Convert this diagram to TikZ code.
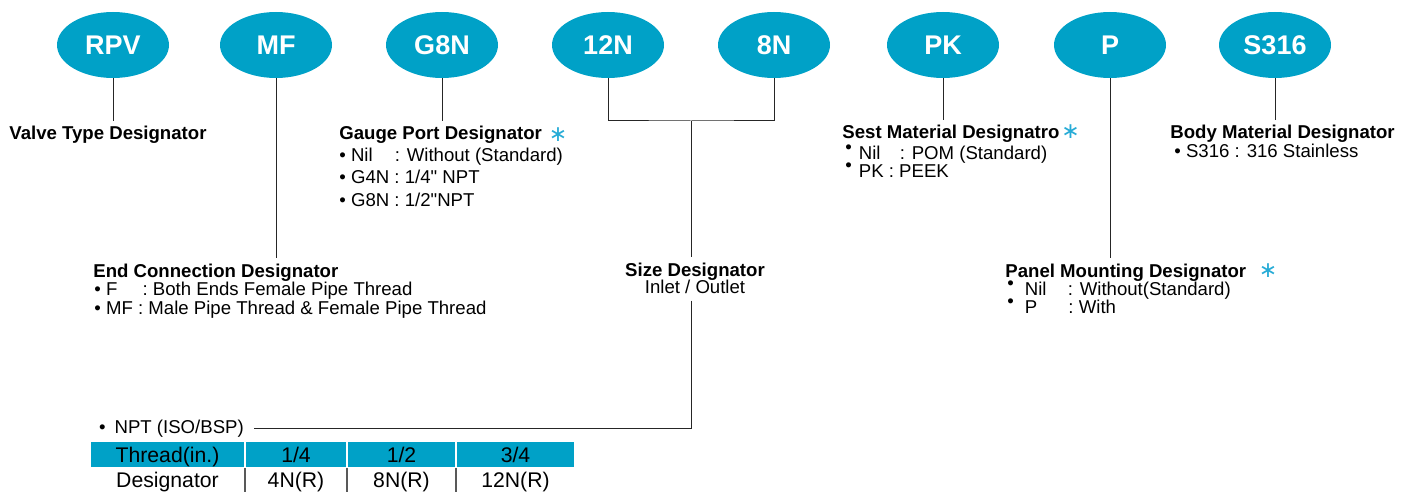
\documentclass[tikz,border=0pt]{standalone}
\usepackage{fontspec}
\setmainfont{Liberation Sans}
\newfontfamily\symfont{DejaVu Sans}
\newfontfamily\inchfont[Ligatures=TeXOff]{Liberation Sans}
\usetikzlibrary{shapes,positioning,calc}

\definecolor{valvecyan}{RGB}{0,161,199}
\definecolor{starcyan}{RGB}{38,171,214}

\tikzset{
  oval/.style={ellipse, fill=valvecyan, minimum width=56pt, minimum height=33pt, inner sep=0pt, text=white, font=\fontsize{13.5}{14}\selectfont\bfseries},
  title/.style={anchor=base west, inner xsep=0pt, inner ysep=2.5pt, font=\fontsize{9.3}{11}\selectfont\bfseries},
  item/.style={anchor=base west, inner sep=0pt, font=\fontsize{9.3}{11}\selectfont},
  star/.style={anchor=base west, inner sep=0pt, text=starcyan, font=\symfont\fontsize{11}{11}\selectfont},
  head/.style={fill=valvecyan, draw=white, line width=0.8pt, outer sep=0pt, minimum height=13.5pt, inner sep=0pt, text height=7.6pt, text depth=0pt, font=\fontsize{10.6}{12}\selectfont},
  cell/.style={outer sep=0pt, minimum height=12pt, inner sep=0pt, text height=7.6pt, text depth=0pt, font=\fontsize{10.6}{12}\selectfont},
  link/.style={line width=0.5pt, black!85}
}
\newcommand{\upbullet}{\raisebox{2.6pt}{•}}
\newcommand{\inch}{{\inchfont"}}

\begin{document}
\begin{tikzpicture}[x=0.5pt, y=-0.5pt]
  \useasboundingbox (0,0) rectangle (1413,492);

  % code ovals
  \node[oval] (rpv) at (113,45) {RPV};
  \node[oval] (mf) at (276,45) {MF};
  \node[oval] (g8n) at (442,45) {G8N};
  \node[oval] (n12) at (608,45) {12N};
  \node[oval] (n8) at (774,45) {8N};
  \node[oval] (pk) at (943,45) {PK};
  \node[oval] (p) at (1110,45) {P};
  \node[oval] (s316) at (1275,45) {S316};

  % designators
  \node[title] (valve) at (9,140) {Valve Type Designator};

  \node[title] (gauge) at (339,140) {Gauge Port Designator};
  \node[star] (gstar) at ([xshift=3pt,yshift=-0.5pt]gauge.base east) {∗};
  \node[item] (gauge1) at (339,162) {• Nil\hspace{11pt}: Without (Standard)};
  \node[item] (gauge2) at (339,184) {• G4N : 1/4\inch{} NPT};
  \node[item] (gauge3) at (339,206) {• G8N : 1/2\inch NPT};

  \node[title] (sest) at (842,139) {Sest Material Designatro};
  \node[star] (sstar) at ([xshift=0.5pt,yshift=0pt]sest.base east) {∗};
  \node[item] (sest1) at (845,159) {\upbullet\hspace{3.5pt}Nil\hspace{7pt} : POM (Standard)};
  \node[item] (sest2) at (845,177) {\upbullet\hspace{3.5pt}PK : PEEK};

  \node[title] (body) at (1170,139) {Body Material Designator};
  \node[item] (body1) at (1174,157) {• S316 : 316 Stainless};

  \node[title] (endconn) at (93,277) {End Connection Designator};
  \node[item] (endconn1) at (94,295) {• F\hspace{10pt} : Both Ends Female Pipe Thread};
  \node[item] (endconn2) at (94,314) {• MF : Male Pipe Thread \& Female Pipe Thread};

  \node[title, anchor=base] (size) at (695,276) {Size Designator};
  \node[item, anchor=base, inner ysep=3.5pt] (inout) at (695,293) {Inlet / Outlet};

  \node[title] (panel) at (1005,277) {Panel Mounting Designator};
  \node[star] (pstar) at ([xshift=6pt,yshift=0pt]panel.base east) {∗};
  \node[item] (panel1) at (1007,295) {\upbullet\hspace{5.5pt}Nil\hspace{8pt} : Without(Standard)};
  \node[item] (panel2) at (1007,313) {\upbullet\hspace{5.5pt}P\hspace{13pt} : With};

  \node[item] (npt) at (98.7,433) {•\hspace{4.5pt}NPT (ISO/BSP)};

  % thread table
  \node[head, minimum width=77.5pt] (h1) at (167.5,454.5) {Thread(in.)};
  \node[head, minimum width=51pt, right=0pt of h1] (h2) {1/4};
  \node[head, minimum width=54.5pt, right=0pt of h2] (h3) {1/2};
  \node[head, minimum width=59.5pt, right=0pt of h3] (h4) {3/4};
  \node[cell, minimum width=77.5pt, below=0pt of h1] (d1) {Designator};
  \node[cell, minimum width=51pt, below=0pt of h2] (d2) {4N(R)};
  \node[cell, minimum width=54.5pt, below=0pt of h3] (d3) {8N(R)};
  \node[cell, minimum width=59.5pt, below=0pt of h4] (d4) {12N(R)};
  \draw[black!65, line width=0.6pt] (d1.north east) -- (d1.south east);
  \draw[black!65, line width=0.6pt] (d2.north east) -- (d2.south east);
  \draw[black!65, line width=0.6pt] (d3.north east) -- (d3.south east);

  % connectors
  \coordinate (join) at (691,121);
  \draw[link] (rpv.south) -- (rpv.south |- valve.north);
  \draw[link] (mf.south) -- (mf.south |- endconn.north);
  \draw[link] (g8n.south) -- (g8n.south |- gauge.north);
  \draw[link] (n12.south) |- (join) -| (n8.south);
  \draw[link] (join) -- (join |- size.north);
  \draw[link, shorten >=5pt] (join |- inout.south) |- (npt.east);
  \draw[link] (pk.south) -- (pk.south |- sest.north);
  \draw[link] (p.south) -- (p.south |- panel.north);
  \draw[link] (s316.south) -- (s316.south |- body.north);
\end{tikzpicture}
\end{document}
